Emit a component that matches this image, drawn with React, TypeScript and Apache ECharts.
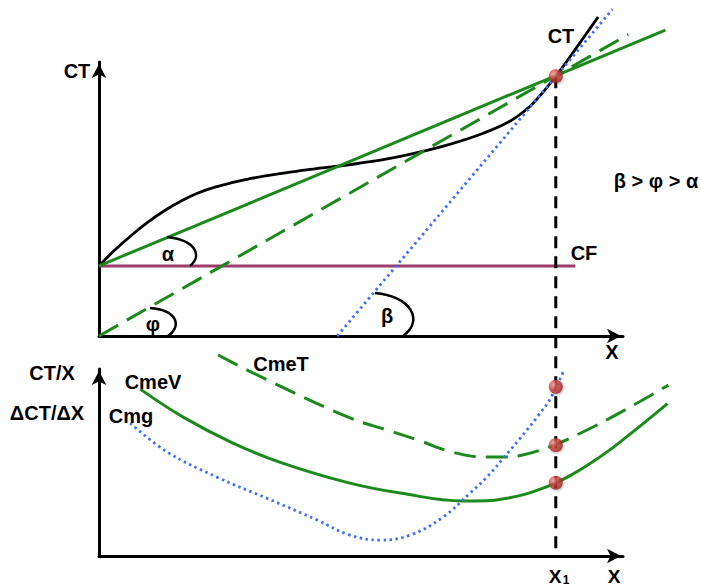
import React, { useEffect, useRef } from 'react';
import * as echarts from 'echarts';

// ---- data (units: x 0..~10, y 0..~10) ----
const X1 = 8.63;
const CT_AT_X1 = 9.34;
const CF_LEVEL = 2.52;

// top panel
const ctX = [0, 0.3, 0.62, 0.93, 1.25, 1.57, 1.87, 2.19, 2.51, 2.82, 3.14, 3.46, 3.76, 4.08, 4.4, 4.71, 4.99, 5.37, 6.01, 6.64, 7.26, 7.77, 8.15, 8.39, 8.66, 8.9, 9.19, 9.43];
const ctY = [2.52, 3.09, 3.63, 4.1, 4.52, 4.87, 5.14, 5.35, 5.51, 5.64, 5.76, 5.85, 5.93, 6.01, 6.08, 6.15, 6.23, 6.34, 6.59, 6.9, 7.29, 7.73, 8.27, 8.77, 9.41, 10.04, 10.82, 11.47];
const cfX = [0, 9.0];
const cfY = [CF_LEVEL, CF_LEVEL];
const rayCfX = [0, 10.7];
const rayCfY = [2.52, 11.0];
const rayOX = [0, 10.0];
const rayOY = [0, 10.84];
const tangentX = [4.5, 9.7];
const tangentY = [0, 11.74];

// bottom panel
const cmeTX = [2.25, 3.18, 4.74, 5.5, 6.07, 6.67, 7.3, 7.71, 7.92, 8.56, 9.22, 9.62, 10.17, 10.76];
const cmeTY = [10.48, 9.18, 7.2, 6.52, 6.0, 5.42, 5.16, 5.16, 5.21, 5.74, 6.57, 7.14, 7.98, 8.91];
const cmeVX = [0.78, 1.59, 2.53, 3.48, 4.74, 5.69, 6.88, 7.33, 7.71, 8.09, 8.47, 8.66, 8.9, 9.22, 9.6, 9.98, 10.36, 10.74];
const cmeVY = [8.7, 7.24, 5.89, 4.83, 3.8, 3.28, 2.87, 2.88, 3.01, 3.25, 3.62, 3.85, 4.19, 4.72, 5.43, 6.24, 7.08, 7.94];
const cmgX = [0.59, 1.29, 2.23, 3.18, 4.12, 4.74, 5.31, 5.88, 6.5, 7.01, 7.33, 7.64, 7.96, 8.28, 8.53, 8.77];
const cmgY = [6.93, 5.42, 4.11, 3.0, 1.88, 1.09, 0.83, 1.09, 2.03, 3.28, 4.12, 5.1, 6.15, 7.25, 8.22, 9.6];
const bottomPoints = [8.82, 5.78, 3.82];

const X_MAX = 9.9;
const Y_MAX_TOP = 9.85;
const Y_MAX_BOTTOM = 9.75;
const X_MAX_DATA = 11;
const Y_MAX_TOP_DATA = 12;
const Y_MAX_BOTTOM_DATA = 11;

const GREEN = '#1b8a1b';
const BLUE = '#3f6fff';
const MAGENTA = '#9c3c6c';
const FONT = 'Liberation Sans, Arial, sans-serif';

const zip = (xs: number[], ys: number[]) => xs.map((x, i) => [x, ys[i]]);

export default function App() {
  const ref = useRef<HTMLDivElement>(null);
  useEffect(() => {
    document.body.style.margin = '0';
    const chart = echarts.init(ref.current!, null, { renderer: 'svg' });
    const axisLine = {
      show: true,
      symbol: ['none', 'arrow'],
      symbolSize: [11, 14],
      symbolOffset: [0, -2],
      lineStyle: { color: '#000', width: 3 },
    };
    const axis = (gridIndex: number, max: number, visible: boolean) => ({
      type: 'value',
      gridIndex,
      min: 0,
      max,
      axisLine: visible ? axisLine : { show: false },
      axisTick: { show: false },
      axisLabel: { show: false },
      splitLine: { show: false },
    });
    // px per unit shared by the visible axes (grids 0,1) and the data overlays (grids 2,3)
    const pxX = 524 / X_MAX;
    const pxYTop = 274 / Y_MAX_TOP;
    const pxYBot = 187 / Y_MAX_BOTTOM;
    const topBase = 336;
    const botBase = 556;

    const line = (xs: number[], ys: number[], g: number, color: string, type: any, width = 3, smooth: any = 0.4, z = 2) => ({
      type: 'line',
      xAxisIndex: g,
      yAxisIndex: g,
      data: zip(xs, ys),
      smooth,
      symbol: 'none',
      showSymbol: false,
      clip: false,
      silent: true,
      z,
      lineStyle: { color, width, type, cap: 'butt' },
    });
    const ball = {
      type: 'radial',
      x: 0.35,
      y: 0.35,
      r: 0.75,
      colorStops: [
        { offset: 0, color: '#f4a0a0' },
        { offset: 0.45, color: '#d0403a' },
        { offset: 1, color: '#8e1c1c' },
      ],
    };
    const txt = (text: string, x: number, y: number, size = 20, weight: any = 'bold') => ({
      type: 'text',
      x,
      y,
      z: 10,
      style: {
        text,
        fontFamily: FONT,
        fontSize: size,
        fontWeight: weight,
        fill: '#000',
        align: 'center',
        verticalAlign: 'middle',
      },
    });
    const arc = (x1: number, y1: number, c1x: number, c1y: number, c2x: number, c2y: number, x2: number, y2: number) => ({
      type: 'bezierCurve',
      z: 10,
      shape: { x1, y1, cpx1: c1x, cpy1: c1y, cpx2: c2x, cpy2: c2y, x2, y2 },
      style: { stroke: '#000', lineWidth: 2.5, fill: null },
    });
    const pointStyle = { color: ball, shadowColor: 'rgba(0,0,0,0.3)', shadowBlur: 3, shadowOffsetX: 1, shadowOffsetY: 1 };

    chart.setOption({
      animation: false,
      grid: [
        { left: 99, top: topBase - 274, width: 524, height: 274 },
        { left: 99, top: botBase - 187, width: 524, height: 187 },
        { left: 99, top: topBase - Y_MAX_TOP_DATA * pxYTop, width: X_MAX_DATA * pxX, height: Y_MAX_TOP_DATA * pxYTop },
        { left: 99, top: botBase - Y_MAX_BOTTOM_DATA * pxYBot, width: X_MAX_DATA * pxX, height: Y_MAX_BOTTOM_DATA * pxYBot },
      ],
      xAxis: [axis(0, X_MAX, true), axis(1, X_MAX, true), axis(2, X_MAX_DATA, false), axis(3, X_MAX_DATA, false)],
      yAxis: [axis(0, Y_MAX_TOP, true), axis(1, Y_MAX_BOTTOM, true), axis(2, Y_MAX_TOP_DATA, false), axis(3, Y_MAX_BOTTOM_DATA, false)],
      series: [
        line(cfX, cfY, 2, MAGENTA, 'solid', 3, false),
        line(ctX, ctY, 2, '#000', 'solid', 2.8, 0.4),
        line(rayCfX, rayCfY, 2, GREEN, 'solid', 3, false),
        line(rayOX, rayOY, 2, GREEN, [22, 10], 3, false),
        line(tangentX, tangentY, 2, BLUE, [2.5, 3.5], 2.8, false),
        line(cmeTX, cmeTY, 3, GREEN, [22, 10], 3, 0.4),
        line(cmeVX, cmeVY, 3, GREEN, 'solid', 3, 0.4),
        line(cmgX, cmgY, 3, BLUE, [2.5, 3.5], 2.8, 0.4),
        {
          type: 'scatter',
          xAxisIndex: 2,
          yAxisIndex: 2,
          data: [[X1, CT_AT_X1]],
          symbolSize: 14,
          z: 6,
          silent: true,
          itemStyle: pointStyle,
        },
        {
          type: 'scatter',
          xAxisIndex: 3,
          yAxisIndex: 3,
          data: bottomPoints.map((v) => [X1, v]),
          symbolSize: 14,
          z: 6,
          silent: true,
          itemStyle: pointStyle,
        },
      ],
    });

    const pTop = chart.convertToPixel({ gridIndex: 2 } as any, [X1, CT_AT_X1]) as number[];
    const pBot = chart.convertToPixel({ gridIndex: 3 } as any, [X1, 0]) as number[];

    chart.setOption({
      graphic: [
        {
          type: 'line',
          z: 5,
          shape: { x1: pTop[0], y1: pTop[1], x2: pBot[0], y2: pBot[1] },
          style: { stroke: '#000', lineWidth: 3, lineDash: [12, 8] },
        },
        arc(167, 237, 195, 240, 203, 255, 190, 266),
        arc(150, 308, 176, 310, 183, 325, 168, 336),
        arc(375, 293, 410, 296, 425, 320, 403, 336),
        txt('CT', 77, 71),
        txt('CT', 561, 36),
        txt('CF', 584, 253),
        txt('β > φ > α', 656, 181),
        txt('α', 168, 254),
        txt('φ', 153, 324),
        txt('β', 387, 316),
        txt('X', 612, 352),
        txt('CT/X', 52, 373),
        txt('ΔCT/ΔX', 47, 413),
        txt('CmeV', 153, 382),
        txt('Cmg', 131, 416),
        txt('CmeT', 281, 364),
        txt('X', 555, 576.5, 19),
        txt('1', 566, 580, 12),
        txt('X', 614, 576.5, 19),
      ],
    });

    return () => chart.dispose();
  }, []);
  return <div ref={ref} style={{ width: 701, height: 587 }} />;
}
